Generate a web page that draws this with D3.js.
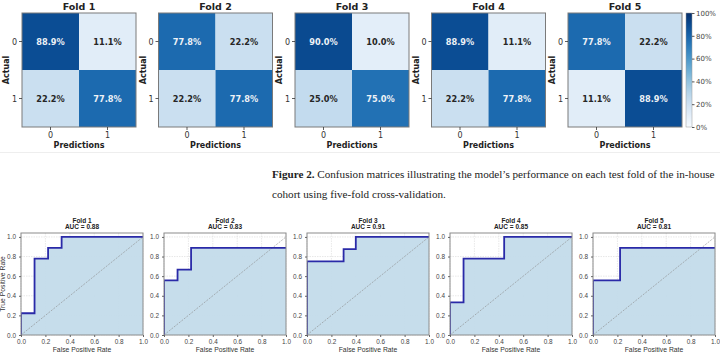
<!DOCTYPE html>
<html>
<head>
<meta charset="utf-8">
<script src="https://cdn.jsdelivr.net/npm/d3@7"></script>
<style>
  html, body { margin: 0; padding: 0; background: #fff; }
  svg { display: block; }
</style>
</head>
<body>
<svg class="chart"></svg>
<script>
// ---- data ----
const foldNames = ["Fold 1", "Fold 2", "Fold 3", "Fold 4", "Fold 5"]
const classLabels = ["0", "1"]
// confusion matrices, row = actual, col = predicted, in %
const cmFold1 = [[88.9, 11.1], [22.2, 77.8]]
const cmFold2 = [[77.8, 22.2], [22.2, 77.8]]
const cmFold3 = [[90.0, 10.0], [25.0, 75.0]]
const cmFold4 = [[88.9, 11.1], [22.2, 77.8]]
const cmFold5 = [[77.8, 22.2], [11.1, 88.9]]
const colorbarTicks = [0, 20, 40, 60, 80, 100]

const aucValues = [0.88, 0.83, 0.91, 0.85, 0.81]
const fpr1 = [0, 0, 0.111, 0.111, 0.222, 0.222, 0.333, 0.333, 1]
const tpr1 = [0, 0.222, 0.222, 0.778, 0.778, 0.889, 0.889, 1, 1]
const fpr2 = [0, 0, 0.111, 0.111, 0.222, 0.222, 1]
const tpr2 = [0, 0.556, 0.556, 0.667, 0.667, 0.889, 0.889]
const fpr3 = [0, 0, 0.3, 0.3, 0.4, 0.4, 1]
const tpr3 = [0, 0.75, 0.75, 0.875, 0.875, 1, 1]
const fpr4 = [0, 0, 0.111, 0.111, 0.444, 0.444, 1]
const tpr4 = [0, 0.333, 0.333, 0.778, 0.778, 1, 1]
const fpr5 = [0, 0, 0.222, 0.222, 1]
const tpr5 = [0, 0.556, 0.556, 0.889, 0.889]
const rateTicks = [0, 0.2, 0.4, 0.6, 0.8, 1.0]

const captionBold = "Figure 2."
const captionLine1 = " Confusion matrices illustrating the model\u2019s performance on each test fold of the in-house"
const captionLine2 = "cohort using five-fold cross-validation."

const cms = [cmFold1, cmFold2, cmFold3, cmFold4, cmFold5]
const rocs = [[fpr1, tpr1], [fpr2, tpr2], [fpr3, tpr3], [fpr4, tpr4], [fpr5, tpr5]]

const W = 720, H = 352
const svg = d3.select(".chart").attr("width", W).attr("height", H)

const sans = "'DejaVu Sans', sans-serif"
const arial = "'Liberation Sans', Arial, sans-serif"

// faint edge of the upper image block
svg.append("line")
  .attr("x1", 0).attr("x2", W).attr("y1", 152.5).attr("y2", 152.5)
  .style("stroke", "#eeeeee").style("stroke-width", "1px")

// ---- confusion matrices ----
const cmSize = 114
const cmTop = 13
const cmPanelX = d3.scaleLinear().domain([0, 4]).range([22, 568])
const cellScale = d3.scaleBand().domain([0, 1]).range([0, cmSize])
const blues = d3.scaleSequential(d3.interpolateBlues).domain([0, 100])

cms.forEach((cm, f) => {
  const g = svg.append("g")
    .attr("transform", "translate(" + cmPanelX(f) + "," + cmTop + ")")

  const cells = []
  cm.forEach((row, r) => row.forEach((v, c) => cells.push({r: r, c: c, v: v})))

  g.selectAll("rect.cell").data(cells).enter()
    .append("rect")
    .attr("class", "cell")
    .attr("x", d => cellScale(d.c))
    .attr("y", d => cellScale(d.r))
    .attr("width", cellScale.bandwidth())
    .attr("height", cellScale.bandwidth())
    .attr("fill", d => blues(d.v))

  g.selectAll("text.val").data(cells).enter()
    .append("text")
    .attr("class", "val")
    .attr("x", d => cellScale(d.c) + cellScale.bandwidth() / 2)
    .attr("y", d => cellScale(d.r) + cellScale.bandwidth() / 2 + 3)
    .attr("text-anchor", "middle")
    .style("font-family", sans)
    .style("font-weight", "bold")
    .style("font-size", "8.2px")
    .style("fill", d => d.v > 50 ? "#eef2f7" : "#262626")
    .text(d => d.v.toFixed(1) + "%")

  g.append("rect")
    .attr("width", cmSize).attr("height", cmSize)
    .attr("fill", "none")
    .style("stroke", "#7a7a7a").style("stroke-width", "1px")

  // ticks
  const ticks = g.append("g")
  classLabels.forEach((lab, i) => {
    const m = cellScale(i) + cellScale.bandwidth() / 2
    ticks.append("line").attr("x1", -3).attr("x2", 0).attr("y1", m).attr("y2", m)
      .style("stroke", "#333").style("stroke-width", "0.8px")
    ticks.append("text").attr("x", -5).attr("y", m + 3)
      .attr("text-anchor", "end")
      .style("font-family", sans).style("font-size", "8px").style("fill", "#333")
      .text(lab)
    ticks.append("line").attr("x1", m).attr("x2", m).attr("y1", cmSize).attr("y2", cmSize + 3)
      .style("stroke", "#333").style("stroke-width", "0.8px")
    ticks.append("text").attr("x", m).attr("y", cmSize + 11)
      .attr("text-anchor", "middle")
      .style("font-family", sans).style("font-size", "8px").style("fill", "#333")
      .text(lab)
  })

  g.append("text")
    .attr("x", cmSize / 2).attr("y", -3.5)
    .attr("text-anchor", "middle")
    .style("font-family", sans).style("font-weight", "bold").style("font-size", "9.5px")
    .style("fill", "#222")
    .text(foldNames[f])

  g.append("text")
    .attr("x", cmSize / 2).attr("y", cmSize + 20.5)
    .attr("text-anchor", "middle")
    .style("font-family", sans).style("font-weight", "bold").style("font-size", "8px")
    .style("fill", "#222")
    .text("Predictions")

  g.append("text")
    .attr("transform", "translate(-13," + (cmSize / 2) + ") rotate(-90)")
    .attr("text-anchor", "middle")
    .style("font-family", sans).style("font-weight", "bold").style("font-size", "8px")
    .style("fill", "#222")
    .text("Actual")
})

// ---- colorbar ----
const defs = svg.append("defs")
const grad = defs.append("linearGradient")
  .attr("id", "bluesGrad")
  .attr("x1", "0%").attr("y1", "100%").attr("x2", "0%").attr("y2", "0%")
d3.range(0, 1.01, 0.1).forEach(t => {
  grad.append("stop")
    .attr("offset", (t * 100) + "%")
    .style("stop-color", d3.interpolateBlues(t))
})

const cbX = 686, cbW = 6
const cbScale = d3.scaleLinear().domain([0, 100]).range([cmTop + cmSize, cmTop])
svg.append("rect")
  .attr("x", cbX).attr("y", cmTop).attr("width", cbW).attr("height", cmSize)
  .attr("fill", "url(#bluesGrad)")
  .style("stroke", "#999").style("stroke-width", "0.5px")

const cbAxis = svg.append("g")
  .attr("transform", "translate(" + (cbX + cbW) + ",0)")
  .call(d3.axisRight(cbScale).tickValues(colorbarTicks).tickFormat(d => d + "%").tickSize(2.5))
cbAxis.select(".domain").remove()
cbAxis.selectAll("line").style("stroke", "#555")
cbAxis.selectAll("text")
  .style("font-family", sans).style("font-size", "7px").style("fill", "#444")
  .attr("x", 4)

// ---- caption ----
const cap1 = svg.append("text")
  .attr("x", 272).attr("y", 178)
  .style("font-family", "'Liberation Serif', 'DejaVu Serif', serif")
  .style("font-size", "12px").style("fill", "#222")
cap1.append("tspan").style("font-weight", "bold").text(captionBold)
cap1.append("tspan").text(captionLine1)
const cap2 = svg.append("text")
  .attr("x", 272).attr("y", 198)
  .style("font-family", "'Liberation Serif', 'DejaVu Serif', serif")
  .style("font-size", "12px").style("fill", "#222")
  .text(captionLine2)
// fit first line to the width it takes in the figure
const natural = cap1.node().getComputedTextLength()
const capSize = 12 * 443 / natural
cap1.style("font-size", capSize + "px")
cap2.style("font-size", capSize + "px")

// ---- ROC curves ----
const rocW = 122
const rocTop = 233, rocBottom = 335
const rocPanelX = d3.scaleLinear().domain([0, 4]).range([21, 593])
const xRoc = d3.scaleLinear().domain([0, 1]).range([0, rocW])
const yRoc = d3.scaleLinear().domain([0, 1.04]).range([rocBottom - rocTop, 0])
const rocH = rocBottom - rocTop

const rocLine = d3.line().x(d => xRoc(d[0])).y(d => yRoc(d[1])).curve(d3.curveLinear)
const rocArea = d3.area().x(d => xRoc(d[0])).y0(yRoc(0)).y1(d => yRoc(d[1])).curve(d3.curveLinear)

rocs.forEach((roc, f) => {
  const pts = roc[0].map((x, i) => [x, roc[1][i]])
  const g = svg.append("g")
    .attr("transform", "translate(" + rocPanelX(f) + "," + rocTop + ")")

  defs.append("clipPath").attr("id", "rocClip" + f)
    .append("rect").attr("width", rocW).attr("height", rocH)

  // grid
  const grid = g.append("g")
  rateTicks.forEach(t => {
    grid.append("line")
      .attr("x1", xRoc(t)).attr("x2", xRoc(t)).attr("y1", 0).attr("y2", rocH)
      .style("stroke", "#d8d8d8").style("stroke-width", "0.6px").style("stroke-dasharray", "1.5,1")
    grid.append("line")
      .attr("x1", 0).attr("x2", rocW).attr("y1", yRoc(t)).attr("y2", yRoc(t))
      .style("stroke", "#d8d8d8").style("stroke-width", "0.6px").style("stroke-dasharray", "1.5,1")
  })

  const inner = g.append("g").attr("clip-path", "url(#rocClip" + f + ")")
  inner.append("path")
    .attr("d", rocArea(pts))
    .attr("fill", "#c3dbea")
    .style("fill-opacity", 0.95)

  inner.append("line")
    .attr("x1", xRoc(0)).attr("y1", yRoc(0)).attr("x2", xRoc(1)).attr("y2", yRoc(1))
    .style("stroke", "#8a8a8a").style("stroke-width", "0.6px").style("stroke-dasharray", "2,1.2")

  inner.append("path")
    .attr("d", rocLine(pts))
    .attr("fill", "none")
    .style("stroke", "#2a2aa8").style("stroke-width", "1.8px")

  g.append("rect")
    .attr("width", rocW).attr("height", rocH)
    .attr("fill", "none")
    .style("stroke", "#8c8c8c").style("stroke-width", "1px")

  const xa = g.append("g").attr("transform", "translate(0," + rocH + ")")
    .call(d3.axisBottom(xRoc).tickValues(rateTicks).tickFormat(d3.format(".1f")).tickSize(2))
  const ya = g.append("g")
    .call(d3.axisLeft(yRoc).tickValues(rateTicks).tickFormat(d3.format(".1f")).tickSize(2))
  ;[xa, ya].forEach(a => {
    a.select(".domain").remove()
    a.selectAll("line").style("stroke", "#666")
    a.selectAll("text").style("font-family", arial).style("font-size", "6.4px").style("fill", "#444")
  })
  xa.selectAll("text").attr("y", 4)

  g.append("text")
    .attr("x", rocW / 2).attr("y", -10.5)
    .attr("text-anchor", "middle")
    .style("font-family", arial).style("font-weight", "bold").style("font-size", "6.5px")
    .style("fill", "#222")
    .text(foldNames[f])
  g.append("text")
    .attr("x", rocW / 2).attr("y", -4)
    .attr("text-anchor", "middle")
    .style("font-family", arial).style("font-weight", "bold").style("font-size", "6.5px")
    .style("fill", "#222")
    .text("AUC = " + aucValues[f].toFixed(2))

  g.append("text")
    .attr("x", rocW / 2).attr("y", rocH + 16.5)
    .attr("text-anchor", "middle")
    .style("font-family", arial).style("font-size", "6.8px").style("fill", "#333")
    .text("False Positive Rate")

  if (f === 0) {
    g.append("text")
      .attr("transform", "translate(-16.5," + (rocH / 2) + ") rotate(-90)")
      .attr("text-anchor", "middle")
      .style("font-family", arial).style("font-size", "6.8px").style("fill", "#333")
      .text("True Positive Rate")
  }
})
</script>
</body>
</html>
